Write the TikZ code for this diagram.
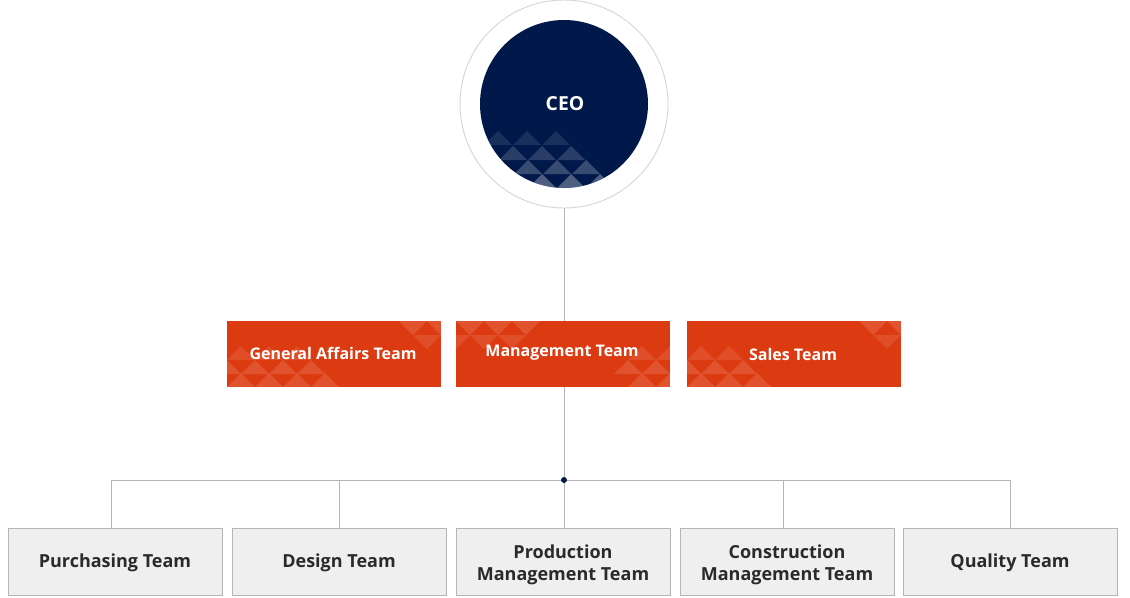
\documentclass[tikz,border=0pt]{standalone}
\usepackage{fontspec}
\setmainfont{Open Sans}
\definecolor{navy}{HTML}{00194A}
\definecolor{brick}{HTML}{DC3A10}
\definecolor{boxgray}{HTML}{EFEFEF}
\definecolor{edgegray}{HTML}{B5B5B8}
\definecolor{ringgray}{HTML}{D3D6DC}
\definecolor{textgray}{HTML}{2A2A2A}
\newcommand{\uptri}[3]{\fill[white,fill opacity=#3] (#1-14,#2) -- (#1,#2+14) -- (#1+14,#2) -- cycle;}
\newcommand{\dntri}[3]{\fill[white,fill opacity=#3] (#1-14,#2) -- (#1,#2-14) -- (#1+14,#2) -- cycle;}
\begin{document}
\begin{tikzpicture}[x=0.75pt,y=0.75pt]
  \useasboundingbox (0,0) rectangle (1130,-597);

  % top
  \node[circle,draw=ringgray,line width=0.7pt,minimum size=156pt,inner sep=0pt] (ceoring) at (564,-104) {};
  \node[circle,fill=navy,minimum size=126pt,inner sep=0pt] (ceodisc) at (564,-104) {};
  \begin{scope}
    \clip (564,-104) circle (84);
    \foreach \x in {498,527,556} {\uptri{\x}{-145}{0.10}}
    \foreach \x in {513,542,571} {\uptri{\x}{-160}{0.16}}
    \foreach \x in {499,528,557,586} {\uptri{\x}{-174}{0.22}}
    \foreach \x in {513,542,571,600} {\uptri{\x}{-188}{0.30}}
  \end{scope}
  \node[text=white,font=\fontsize{14.5}{16}\selectfont\bfseries] (ceo) at (565,-104) {CEO};

  % middle
  \begin{scope}[every node/.style={fill=brick,minimum width=160.5pt,minimum height=49.5pt,inner sep=0pt}]
    \node (ga)    at (334,-354) {};
    \node (mgmt)  at (563,-354) {};
    \node (sales) at (794,-354) {};
  \end{scope}

  \begin{scope}
    \clip (227,-321) rectangle (441,-387);
    \foreach \x in {241,269,297} {\uptri{\x}{-360}{0.10}}
    \foreach \x in {227,255,283,311} {\uptri{\x}{-374}{0.13}}
    \foreach \x in {241,269,297,325} {\uptri{\x}{-387}{0.13}}
    \foreach \x in {413,441} {\dntri{\x}{-321}{0.13}}
    \foreach \x in {427} {\dntri{\x}{-335}{0.10}}
  \end{scope}
  \begin{scope}
    \clip (456,-321) rectangle (670,-387);
    \foreach \x in {470,498,526} {\dntri{\x}{-321}{0.13}}
    \foreach \x in {456,484,512} {\dntri{\x}{-335}{0.10}}
    \foreach \x in {642,670} {\uptri{\x}{-360}{0.10}}
    \foreach \x in {628,656} {\uptri{\x}{-374}{0.13}}
    \foreach \x in {642,670} {\uptri{\x}{-387}{0.13}}
  \end{scope}
  \begin{scope}
    \clip (687,-321) rectangle (901,-387);
    \foreach \x in {701,729} {\uptri{\x}{-360}{0.10}}
    \foreach \x in {687,715,743} {\uptri{\x}{-374}{0.13}}
    \foreach \x in {701,729,757} {\uptri{\x}{-387}{0.13}}
    \foreach \x in {873,901} {\dntri{\x}{-321}{0.13}}
    \foreach \x in {887} {\dntri{\x}{-335}{0.10}}
  \end{scope}

  \begin{scope}[every node/.style={text=white,font=\fontsize{12}{14}\selectfont\bfseries}]
    \node (galabel)    at (333,-353) {General Affairs Team};
    \node (mgmtlabel)  at (562,-353) {Management Team};
    \node (saleslabel) at (793,-354) {Sales Team};
  \end{scope}

  % bottom
  \begin{scope}[every node/.style={draw=edgegray,fill=boxgray,minimum width=160.5pt,minimum height=50.25pt,inner sep=0pt,align=center,text=textgray,font=\fontsize{13.5}{16.5}\selectfont\bfseries}]
    \node[text height=9.5pt,text depth=0pt] (purch)   at (115,-561.5)  {Purchasing Team};
    \node[text height=9.5pt,text depth=0pt] (design)  at (339,-561.5)  {Design Team};
    \node[text height=29.2pt,text depth=0pt] (prod)   at (563,-561.5)  {Production\\Management Team};
    \node[text height=29.2pt,text depth=0pt] (constr) at (787,-561.5)  {Construction\\Management Team};
    \node[text height=9.5pt,text depth=0pt] (quality) at (1010,-561.5) {Quality Team};
  \end{scope}

  \coordinate (hub) at (564,-480);

  \begin{scope}[every path/.style={draw=edgegray,line width=0.6pt}]
    \path (ceoring.south) -- (ceoring.south |- mgmt.north);
    \path (hub |- mgmt.south) -- (hub |- prod.north);
    \path ([xshift=-3pt]purch.north) |- (hub) -| (quality.north);
    \path (design.north) -- (design.north |- hub);
    \path ([xshift=-3pt]constr.north) -- ([xshift=-3pt]constr.north |- hub);
  \end{scope}
  \fill[navy] (hub) circle (3);

\end{tikzpicture}
\end{document}
